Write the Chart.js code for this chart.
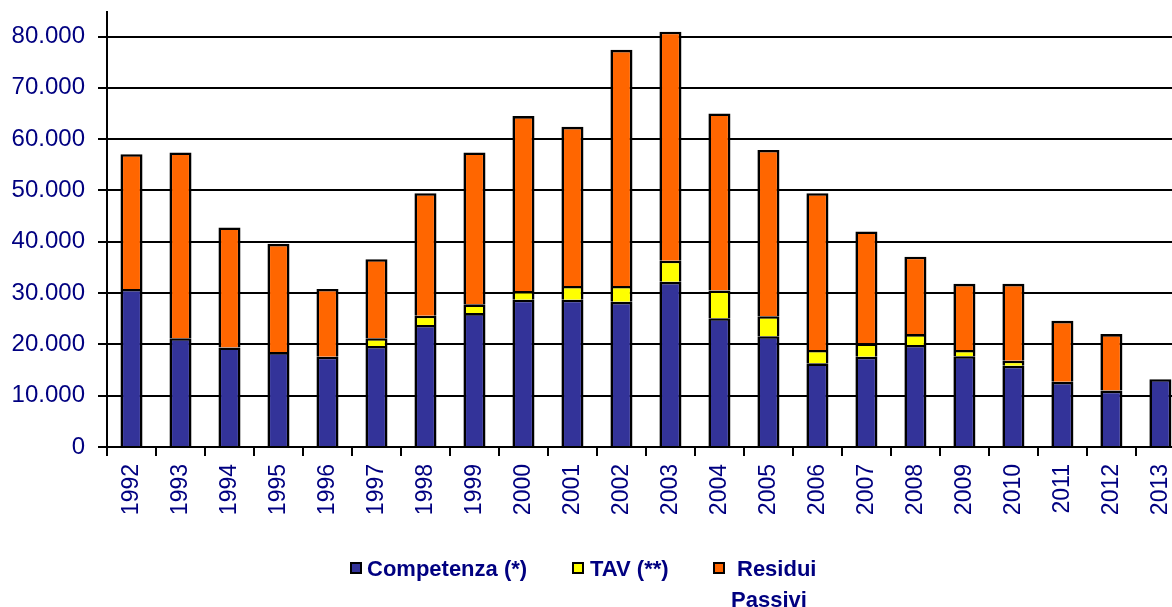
<!DOCTYPE html>
<html lang="it">
<head>
    <meta charset="UTF-8">
    <title>Competenza, TAV e Residui Passivi 1992-2013</title>
    <script src="https://cdn.jsdelivr.net/npm/chart.js"></script>
    <style>
        body {
            margin: 0;
            padding: 0;
            background: #fff;
            overflow: hidden;
            font-family: Arial, "Liberation Sans", sans-serif;
        }
        .wrap {
            position: relative;
            width: 1172px;
            height: 607px;
            overflow: hidden;
        }
        canvas {
            position: absolute;
            left: 0;
            top: -15px; /* grafico ritagliato in alto e a destra come nell'originale */
        }
        .legend-box {
            position: absolute;
            width: 12px;
            height: 12px;
            box-sizing: border-box;
            border: 2px solid #000;
        }
        .legend-text {
            position: absolute;
            font-weight: bold;
            font-size: 22px;
            line-height: 22px;
            color: #000080;
            white-space: nowrap;
        }
    </style>
</head>
<body>
    <div class="wrap">
        <canvas id="chart" width="1196" height="622"></canvas>

        <div class="legend-box" style="left:350px; top:562px; background:#333399;"></div>
        <div class="legend-text" style="left:367px; top:558px;">Competenza (*)</div>

        <div class="legend-box" style="left:572px; top:562px; background:#ffff00;"></div>
        <div class="legend-text" style="left:590px; top:558px;">TAV (**)</div>

        <div class="legend-box" style="left:713px; top:562px; background:#ff6600;"></div>
        <div class="legend-text" style="left:737px; top:558px;">Residui</div>
        <div class="legend-text" style="left:731px; top:589px;">Passivi</div>
    </div>

    <script>
        const years = ["1992", "1993", "1994", "1995", "1996", "1997", "1998", "1999", "2000", "2001", "2002",
                       "2003", "2004", "2005", "2006", "2007", "2008", "2009", "2010", "2011", "2012", "2013"];

        const competenza = [30800, 21200, 19400, 18500, 17600, 19700, 23800, 26100, 28700, 28700, 28300,
                            32200, 25100, 21600, 16300, 17600, 19900, 17700, 15850, 12700, 11000, 13200];

        const tav = [0, 0, 0, 0, 0, 1500, 1800, 1700, 1700, 2700, 3100,
                     4100, 5400, 3900, 2600, 2600, 2100, 1200, 950, 0, 0, 0];

        const residuiPassivi = [26250, 36200, 23400, 21100, 13200, 15400, 23850, 29600, 34100, 31000, 46000,
                                44650, 34500, 32400, 30550, 21800, 15100, 12900, 15000, 11900, 11000, 0];

        const yTicks = [0, 10000, 20000, 30000, 40000, 50000, 60000, 70000, 80000];

        const navy = "#000080";
        const fontFamily = "Arial, 'Liberation Sans', sans-serif";

        function fmt(v) {
            // formato italiano: punto come separatore delle migliaia
            return v === 0 ? "0" : String(v).replace(/\B(?=(\d{3})+(?!\d))/g, ".");
        }

        const barStyle = {
            borderColor: "#000",
            borderWidth: 2.6,
            barPercentage: 0.45,
            categoryPercentage: 1.0,
        };

        const ctx = document.getElementById("chart").getContext("2d");
        new Chart(ctx, {
            type: "bar",
            data: {
                labels: years,
                datasets: [
                    { label: "Competenza (*)", data: competenza, backgroundColor: "#333399", ...barStyle },
                    { label: "TAV (**)", data: tav, backgroundColor: "#ffff00", ...barStyle },
                    { label: "Residui Passivi", data: residuiPassivi, backgroundColor: "#ff6600", ...barStyle },
                ],
            },
            options: {
                responsive: false,
                animation: false,
                layout: {
                    padding: { top: 12, left: 0, right: 0, bottom: 0 },
                },
                plugins: {
                    legend: { display: false },
                    tooltip: { enabled: false },
                },
                scales: {
                    x: {
                        stacked: true,
                        offset: true,
                        border: { display: true, color: "#000", width: 2 },
                        grid: {
                            offset: true,
                            drawOnChartArea: false,
                            drawTicks: true,
                            tickLength: 9,
                            color: "#000",
                            lineWidth: 2,
                        },
                        ticks: {
                            minRotation: 90,
                            maxRotation: 90,
                            autoSkip: false,
                            padding: 8,
                            color: navy,
                            font: { family: fontFamily, size: 23 },
                        },
                        afterFit(scale) {
                            scale.height = 160;
                        },
                    },
                    y: {
                        stacked: true,
                        min: 0,
                        max: 84700,
                        border: { display: true, color: "#000", width: 2 },
                        grid: {
                            color: "#000",
                            lineWidth: 2,
                            tickLength: 9,
                        },
                        ticks: {
                            stepSize: 10000,
                            padding: 13,
                            color: navy,
                            font: { family: fontFamily, size: 24 },
                            callback: (v) => fmt(v),
                        },
                        afterBuildTicks(scale) {
                            scale.ticks = yTicks.map((v) => ({ value: v }));
                        },
                        afterFit(scale) {
                            scale.width = 107;
                        },
                    },
                },
            },
        });
    </script>
</body>
</html>
